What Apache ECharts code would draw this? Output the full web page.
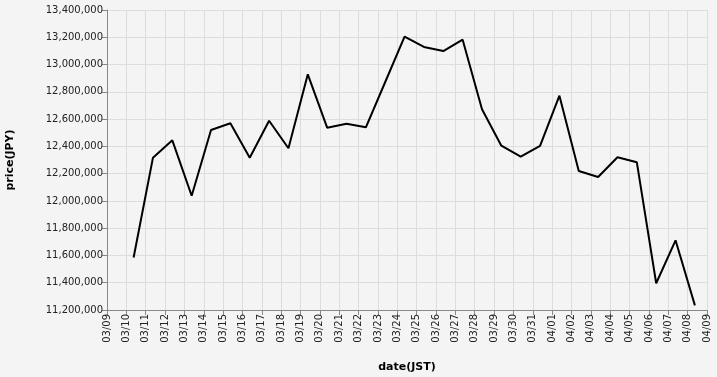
<!DOCTYPE html>
<html><head><meta charset="utf-8">
<script src="https://cdn.jsdelivr.net/npm/echarts@6/dist/echarts.min.js"></script>
<style>html,body{margin:0;padding:0;background:#f4f4f4}#c{width:717px;height:377px}</style>
</head><body><div id="c"></div>
<script>
const dates = ['2025-03-10','2025-03-11','2025-03-12','2025-03-13','2025-03-14','2025-03-15','2025-03-16','2025-03-17','2025-03-18','2025-03-19','2025-03-20','2025-03-21','2025-03-22','2025-03-23','2025-03-24','2025-03-25','2025-03-26','2025-03-27','2025-03-28','2025-03-29','2025-03-30','2025-03-31','2025-04-01','2025-04-02','2025-04-03','2025-04-04','2025-04-05','2025-04-06','2025-04-07','2025-04-08'];
const prices = [11585000,12317000,12444000,12038000,12520000,12569000,12317000,12588000,12386000,12928000,12537000,12566000,12540000,12872000,13204000,13129000,13099000,13182000,12672000,12405000,12324000,12403000,12772000,12219000,12175000,12320000,12283000,11396000,11711000,11234000];
const xMin = '2025-03-09T00:00:00';
const xMax = '2025-04-09T00:00:00';
const yMin = 11200000, yMax = 13400000, yStep = 200000;

const data = dates.map((d,i)=>[new Date(d+'T09:00:00').getTime(), prices[i]]);
const font = 'DejaVu Sans';
const chart = echarts.init(document.getElementById('c'));
chart.setOption({
  backgroundColor:'#f4f4f4',
  animation:false,
  grid:{left:107,right:10,top:10,bottom:67,containLabel:false,outerBoundsMode:'none'},
  xAxis:{
    type:'time',
    min:new Date(xMin).getTime(), max:new Date(xMax).getTime(),
    minInterval:86400000, maxInterval:86400000,
    name:'date(JST)', nameLocation:'middle', nameGap:52,
    nameTextStyle:{fontFamily:font,fontSize:11,fontWeight:'bold',color:'#000'},
    axisLine:{show:true,lineStyle:{color:'#888',width:1}},
    axisTick:{show:true,length:5,lineStyle:{color:'#888'}},
    axisLabel:{rotate:90,fontFamily:font,fontSize:10,color:'#222',margin:4,hideOverlap:false,
      formatter:function(v){return echarts.time.format(v,'{MM}/{dd}',false);}},
    splitLine:{show:true,lineStyle:{color:'#ddd',width:1}}
  },
  yAxis:{
    type:'value',min:yMin,max:yMax,interval:yStep,
    name:'price(JPY)', nameLocation:'middle', nameGap:91,
    nameTextStyle:{fontFamily:font,fontSize:11,fontWeight:'bold',color:'#000'},
    axisLine:{show:true,lineStyle:{color:'#888',width:1}},
    axisTick:{show:true,length:5,lineStyle:{color:'#888'}},
    axisLabel:{fontFamily:font,fontSize:10,color:'#222',margin:4,
      formatter:function(v){return v.toLocaleString('en-US');}},
    splitLine:{show:true,lineStyle:{color:'#ddd',width:1}}
  },
  series:[{type:'line',data:data,showSymbol:false,lineStyle:{color:'#000',width:2},itemStyle:{color:'#000'}}]
});
</script></body></html>
